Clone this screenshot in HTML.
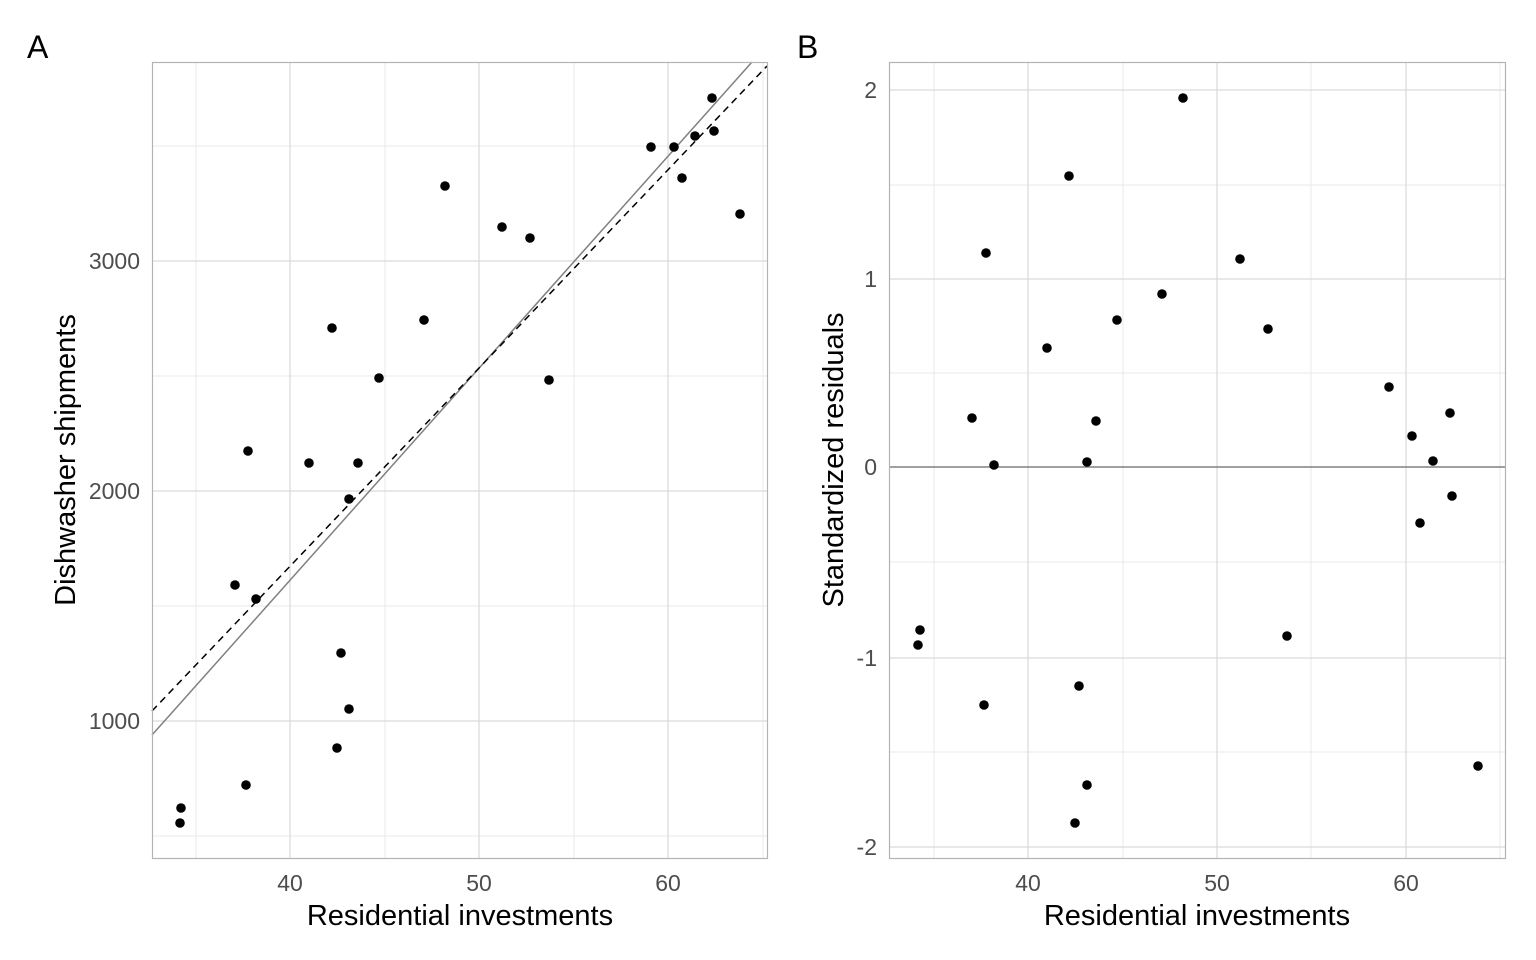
<!DOCTYPE html>
<html><head><meta charset="utf-8"><style>body{margin:0;background:#fff}svg{display:block}</style></head><body>
<svg width="1536" height="960" xmlns="http://www.w3.org/2000/svg" font-family="Liberation Sans, sans-serif">
<rect width="1536" height="960" fill="#fff"/>
<!-- Panel A -->
<g stroke="#e8e8e8" stroke-width="1">
<line x1="152" x2="767" y1="146" y2="146"/><line x1="152" x2="767" y1="376" y2="376"/><line x1="152" x2="767" y1="606" y2="606"/><line x1="152" x2="767" y1="836" y2="836"/>
<line y1="62" y2="858" x1="196" x2="196"/><line y1="62" y2="858" x1="385" x2="385"/><line y1="62" y2="858" x1="574" x2="574"/><line y1="62" y2="858" x1="763" x2="763"/>
</g>
<g stroke="#d9d9d9" stroke-width="1.2">
<line x1="152" x2="767" y1="261" y2="261"/><line x1="152" x2="767" y1="491" y2="491"/><line x1="152" x2="767" y1="721" y2="721"/>
<line y1="62" y2="858" x1="290" x2="290"/><line y1="62" y2="858" x1="479" x2="479"/><line y1="62" y2="858" x1="668" x2="668"/>
</g>
<line x1="152" y1="735" x2="752" y2="62" stroke="#808080" stroke-width="1.5"/>
<line x1="152" y1="711" x2="767" y2="66" stroke="#000" stroke-width="1.5" stroke-dasharray="7,5"/>
<g fill="#000">
<circle cx="180" cy="823" r="4.8"/><circle cx="181" cy="808" r="4.8"/><circle cx="235" cy="585" r="4.8"/><circle cx="246" cy="785" r="4.8"/><circle cx="248" cy="451" r="4.8"/><circle cx="256" cy="599" r="4.8"/><circle cx="309" cy="463" r="4.8"/><circle cx="332" cy="328" r="4.8"/><circle cx="337" cy="748" r="4.8"/><circle cx="341" cy="653" r="4.8"/><circle cx="349" cy="709" r="4.8"/><circle cx="349" cy="499" r="4.8"/><circle cx="358" cy="463" r="4.8"/><circle cx="379" cy="378" r="4.8"/><circle cx="424" cy="320" r="4.8"/><circle cx="445" cy="186" r="4.8"/><circle cx="502" cy="227" r="4.8"/><circle cx="530" cy="238" r="4.8"/><circle cx="549" cy="380" r="4.8"/><circle cx="651" cy="147" r="4.8"/><circle cx="674" cy="147" r="4.8"/><circle cx="682" cy="178" r="4.8"/><circle cx="695" cy="136" r="4.8"/><circle cx="712" cy="98" r="4.8"/><circle cx="714" cy="131" r="4.8"/><circle cx="740" cy="214" r="4.8"/>
</g>
<rect x="152.5" y="62.5" width="615" height="796" fill="none" stroke="#b3b3b3" stroke-width="1.2"/>
<g font-size="23" fill="#4d4d4d" text-anchor="end">
<text x="140" y="269">3000</text><text x="140" y="499">2000</text><text x="140" y="729">1000</text></g>
<g font-size="23" fill="#4d4d4d" text-anchor="middle">
<text x="290" y="891">40</text><text x="479" y="891">50</text><text x="668" y="891">60</text></g>
<text x="460" y="925" font-size="29" text-anchor="middle">Residential investments</text>
<text transform="translate(75,460) rotate(-90)" font-size="29" text-anchor="middle">Dishwasher shipments</text>
<text x="27" y="58" font-size="32">A</text>
<!-- Panel B -->
<g stroke="#e8e8e8" stroke-width="1">
<line x1="889" x2="1505" y1="185" y2="185"/><line x1="889" x2="1505" y1="373" y2="373"/><line x1="889" x2="1505" y1="562" y2="562"/><line x1="889" x2="1505" y1="752" y2="752"/>
<line y1="62" y2="858" x1="934" x2="934"/><line y1="62" y2="858" x1="1123" x2="1123"/><line y1="62" y2="858" x1="1311" x2="1311"/><line y1="62" y2="858" x1="1500" x2="1500"/>
</g>
<g stroke="#d9d9d9" stroke-width="1.2">
<line x1="889" x2="1505" y1="90" y2="90"/><line x1="889" x2="1505" y1="279" y2="279"/><line x1="889" x2="1505" y1="658" y2="658"/><line x1="889" x2="1505" y1="847" y2="847"/>
<line y1="62" y2="858" x1="1028" x2="1028"/><line y1="62" y2="858" x1="1217" x2="1217"/><line y1="62" y2="858" x1="1406" x2="1406"/>
</g>
<line x1="889" x2="1505" y1="467" y2="467" stroke="#808080" stroke-width="1.6"/>
<g fill="#000">
<circle cx="918" cy="645" r="4.8"/><circle cx="920" cy="630" r="4.8"/><circle cx="972" cy="418" r="4.8"/><circle cx="984" cy="705" r="4.8"/><circle cx="986" cy="253" r="4.8"/><circle cx="994" cy="465" r="4.8"/><circle cx="1047" cy="348" r="4.8"/><circle cx="1069" cy="176" r="4.8"/><circle cx="1075" cy="823" r="4.8"/><circle cx="1079" cy="686" r="4.8"/><circle cx="1087" cy="785" r="4.8"/><circle cx="1087" cy="462" r="4.8"/><circle cx="1096" cy="421" r="4.8"/><circle cx="1117" cy="320" r="4.8"/><circle cx="1162" cy="294" r="4.8"/><circle cx="1183" cy="98" r="4.8"/><circle cx="1240" cy="259" r="4.8"/><circle cx="1268" cy="329" r="4.8"/><circle cx="1287" cy="636" r="4.8"/><circle cx="1389" cy="387" r="4.8"/><circle cx="1412" cy="436" r="4.8"/><circle cx="1420" cy="523" r="4.8"/><circle cx="1433" cy="461" r="4.8"/><circle cx="1450" cy="413" r="4.8"/><circle cx="1452" cy="496" r="4.8"/><circle cx="1478" cy="766" r="4.8"/>
</g>
<rect x="889.5" y="62.5" width="616" height="796" fill="none" stroke="#b3b3b3" stroke-width="1.2"/>
<g font-size="23" fill="#4d4d4d" text-anchor="end">
<text x="877" y="98">2</text><text x="877" y="287">1</text><text x="877" y="475">0</text><text x="877" y="666">-1</text><text x="877" y="855">-2</text></g>
<g font-size="23" fill="#4d4d4d" text-anchor="middle">
<text x="1028" y="891">40</text><text x="1217" y="891">50</text><text x="1406" y="891">60</text></g>
<text x="1197" y="925" font-size="29" text-anchor="middle">Residential investments</text>
<text transform="translate(843,460) rotate(-90)" font-size="29" text-anchor="middle">Standardized residuals</text>
<text x="797" y="58" font-size="32">B</text>
</svg>
</body></html>
